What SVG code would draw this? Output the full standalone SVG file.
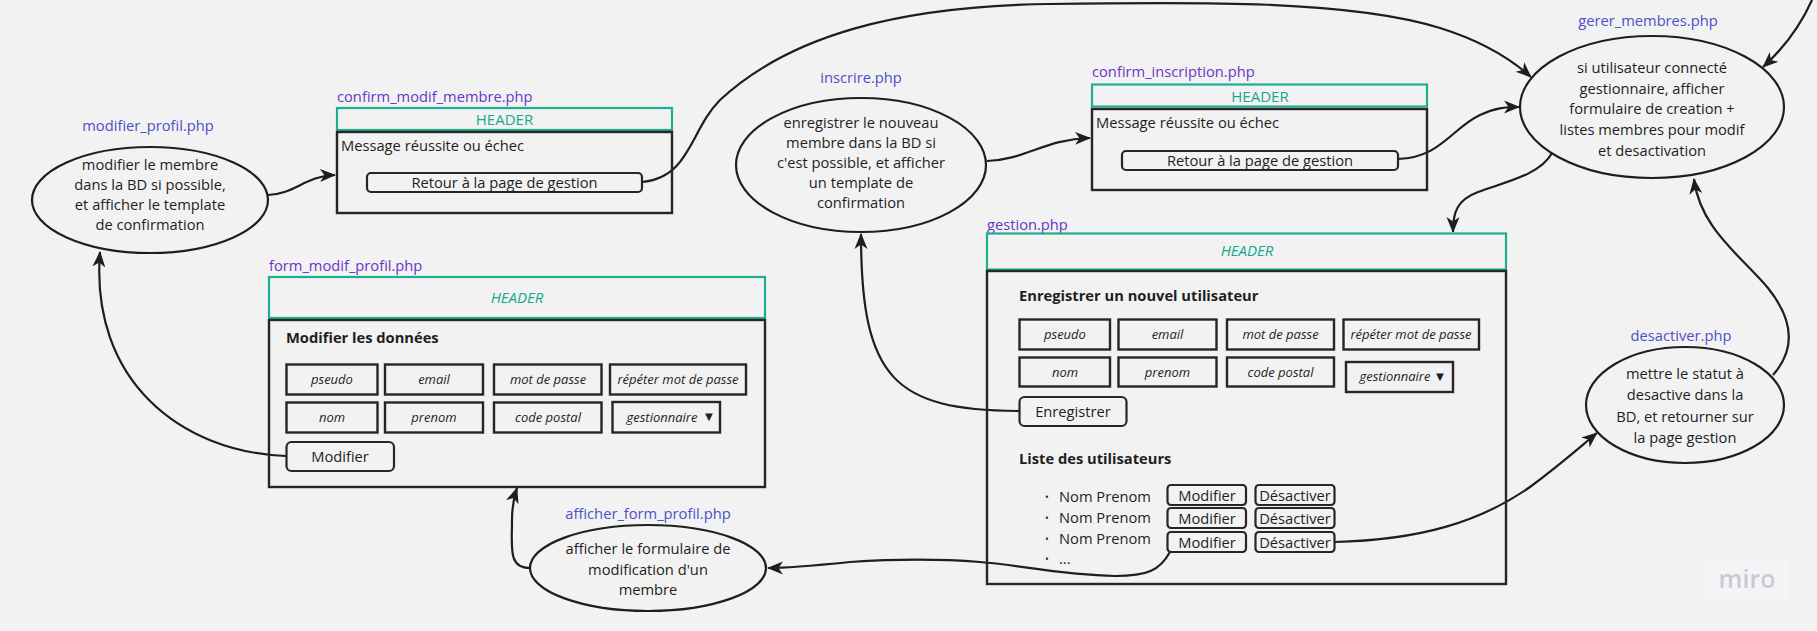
<svg xmlns="http://www.w3.org/2000/svg" width="1817" height="631" viewBox="0 0 1817 631">
<style>
text{font-family:"Open Sans","Noto Sans","Liberation Sans",sans-serif;font-size:14.7px;fill:#1e1e1e}
.lb{fill:#4b50c8}
.lp{fill:#6a34c8}
.mid{text-anchor:middle}
.hd{fill:#15a88a;text-anchor:middle;font-size:15px}
.it{font-style:italic}
.fld{font-size:13px;font-style:italic;text-anchor:middle}
.tri{font-size:13px;text-anchor:middle}
.bul{font-size:10px}
.bold{font-weight:700}
.ell{fill:none;stroke:#1e1e1e;stroke-width:2.2}
.hdr{fill:none;stroke:#1fae90;stroke-width:2.2}
.body{fill:none;stroke:#262626;stroke-width:2.4}
.box{fill:none;stroke:#262626;stroke-width:2.4}
.btn{fill:none;stroke:#262626;stroke-width:2.2}
.con path{fill:none;stroke:#1e1e1e;stroke-width:2.2;marker-end:url(#ah)}
</style>
<defs>
<marker id="ah" markerUnits="userSpaceOnUse" markerWidth="16" markerHeight="16" viewBox="0 0 16 16" refX="15" refY="8" orient="auto">
<path d="M0,1.5 L16,8 L0,14.5 L4.5,8 z" fill="#1e1e1e"/>
</marker>
</defs>
<rect x="0" y="0" width="1817" height="631" fill="#f2f2f2"/>

<g class="con" id="connectors">
<path d="M268,195 C295,194 305,176 335,175"/>
<path d="M642,182 C690,178 690,130 720,100 C790,35 900,6 1050,4 C1200,2 1350,0 1440,28 C1485,42 1512,60 1531,77"/>
<path d="M987,161 C1025,160 1045,139 1090,138"/>
<path d="M1398,159 C1440,158 1452,128 1480,115 C1495,108 1505,107 1519,107"/>
<path d="M1812,0 Q1795,38 1763,67"/>
<path d="M1552,153 C1540,175 1505,182 1478,192 C1457,200 1453,212 1453,232"/>
<path d="M1773,375 C1797,348 1792,318 1768,288 C1740,255 1700,228 1694,179"/>
<path d="M1334,542 C1420,540 1480,522 1530,487 C1560,465 1580,447 1597,433"/>
<path d="M1170,552 C1160,570 1148,576 1115,576 C1060,575 1020,565 980,562 C930,558 880,560 850,562 C820,565 790,568 768,568"/>
<path d="M530,568 C508,568 512,548 512,520 C512,505 514,497 517,488"/>
<path d="M1019,411 C895,410 861,380 861,234"/>
<path d="M286,456 C180,452 90,380 100,252"/>
</g>

<g id="modifier_profil">
<text class="lb mid" x="148" y="131">modifier_profil.php</text>
<ellipse class="ell" cx="150" cy="200" rx="118" ry="53"/>
<text class="mid" x="150" y="170">modifier le membre</text>
<text class="mid" x="150" y="190">dans la BD si possible,</text>
<text class="mid" x="150" y="210">et afficher le template</text>
<text class="mid" x="150" y="230">de confirmation</text>
</g>

<g id="confirm_modif_membre">
<text class="lp" x="337" y="102">confirm_modif_membre.php</text>
<rect class="hdr" x="337" y="108" width="335" height="22"/>
<text class="hd" x="504.5" y="124.5">HEADER</text>
<rect class="body" x="337" y="132" width="335" height="81"/>
<text x="341" y="151">Message réussite ou échec</text>
<rect class="btn" x="367" y="173" width="275" height="19" rx="4"/>
<text class="mid" x="504.5" y="188">Retour à la page de gestion</text>
</g>

<g id="inscrire">
<text class="lb mid" x="861" y="83">inscrire.php</text>
<ellipse class="ell" cx="861" cy="165" rx="125" ry="67"/>
<text class="mid" x="861" y="128">enregistrer le nouveau</text>
<text class="mid" x="861" y="148">membre dans la BD si</text>
<text class="mid" x="861" y="168">c'est possible, et afficher</text>
<text class="mid" x="861" y="188">un template de</text>
<text class="mid" x="861" y="208">confirmation</text>
</g>

<g id="confirm_inscription">
<text class="lp" x="1092" y="77">confirm_inscription.php</text>
<rect class="hdr" x="1092" y="84.5" width="335" height="22"/>
<text class="hd" x="1260" y="101.5">HEADER</text>
<rect class="body" x="1092" y="109" width="335" height="81"/>
<text x="1096" y="128">Message réussite ou échec</text>
<rect class="btn" x="1122" y="151" width="276" height="19" rx="4"/>
<text class="mid" x="1260" y="166">Retour à la page de gestion</text>
</g>

<g id="gerer_membres">
<text class="lb mid" x="1648" y="26">gerer_membres.php</text>
<ellipse class="ell" cx="1652" cy="107" rx="132" ry="71"/>
<text class="mid" x="1652" y="73">si utilisateur connecté</text>
<text class="mid" x="1652" y="93.5">gestionnaire, afficher</text>
<text class="mid" x="1652" y="114">formulaire de creation +</text>
<text class="mid" x="1652" y="135">listes membres pour modif</text>
<text class="mid" x="1652" y="156">et desactivation</text>
</g>

<g id="gestion">
<text class="lp" x="987" y="230">gestion.php</text>
<rect class="hdr" x="987" y="233.5" width="519" height="36"/>
<text class="hd it" x="1247" y="256">HEADER</text>
<rect class="body" x="987" y="271" width="519" height="313"/>
<text class="bold" x="1019" y="301">Enregistrer un nouvel utilisateur</text>
<rect class="box" x="1019.5" y="319.5" width="90.5" height="30"/>
<text class="fld" x="1065" y="338.5">pseudo</text>
<rect class="box" x="1118.5" y="319.5" width="98" height="30"/>
<text class="fld" x="1167.5" y="338.5">email</text>
<rect class="box" x="1227" y="319.5" width="107" height="30"/>
<text class="fld" x="1280.5" y="338.5">mot de passe</text>
<rect class="box" x="1343.5" y="319.5" width="135.5" height="30"/>
<text class="fld" x="1411" y="338.5">répéter mot de passe</text>
<rect class="box" x="1019.5" y="357.5" width="90.5" height="29"/>
<text class="fld" x="1065" y="376.5">nom</text>
<rect class="box" x="1118.5" y="357.5" width="98" height="29"/>
<text class="fld" x="1167.5" y="376.5">prenom</text>
<rect class="box" x="1227" y="357.5" width="107" height="29"/>
<text class="fld" x="1280.5" y="376.5">code postal</text>
<rect class="box" x="1346" y="362" width="107" height="30"/>
<text class="fld" x="1395" y="381">gestionnaire</text>
<text class="tri" x="1440" y="381">▼</text>
<rect class="btn" x="1019.5" y="397" width="107" height="29" rx="5"/>
<text class="mid" x="1073" y="417">Enregistrer</text>
<text class="bold" x="1019" y="464">Liste des utilisateurs</text>
<text class="bul" x="1045" y="501">•</text>
<text x="1059" y="501.5">Nom Prenom</text>
<text class="bul" x="1045" y="522">•</text>
<text x="1059" y="522.5">Nom Prenom</text>
<text class="bul" x="1045" y="543">•</text>
<text x="1059" y="543.5">Nom Prenom</text>
<text class="bul" x="1045" y="563">•</text>
<text x="1059" y="563.5">...</text>
<rect class="btn" x="1167.5" y="485" width="78.5" height="20" rx="3.5"/>
<text class="mid" x="1207" y="501">Modifier</text>
<rect class="btn" x="1255.5" y="485" width="79" height="20" rx="3.5"/>
<text class="mid" x="1295" y="501">Désactiver</text>
<rect class="btn" x="1167.5" y="508" width="78.5" height="20" rx="3.5"/>
<text class="mid" x="1207" y="524">Modifier</text>
<rect class="btn" x="1255.5" y="508" width="79" height="20" rx="3.5"/>
<text class="mid" x="1295" y="524">Désactiver</text>
<rect class="btn" x="1167.5" y="532" width="78.5" height="20" rx="3.5"/>
<text class="mid" x="1207" y="548">Modifier</text>
<rect class="btn" x="1255.5" y="532" width="79" height="20" rx="3.5"/>
<text class="mid" x="1295" y="548">Désactiver</text>
</g>

<g id="form_modif_profil">
<text class="lp" x="269" y="271">form_modif_profil.php</text>
<rect class="hdr" x="269" y="277" width="496" height="41"/>
<text class="hd it" x="517" y="303">HEADER</text>
<rect class="body" x="269" y="320" width="496" height="167"/>
<text class="bold" x="286" y="343">Modifier les données</text>
<rect class="box" x="286.5" y="364.5" width="91" height="30"/>
<text class="fld" x="332" y="384">pseudo</text>
<rect class="box" x="385" y="364.5" width="98" height="30"/>
<text class="fld" x="434" y="384">email</text>
<rect class="box" x="494" y="364.5" width="107.5" height="30"/>
<text class="fld" x="548" y="384">mot de passe</text>
<rect class="box" x="610" y="364.5" width="136" height="30"/>
<text class="fld" x="678" y="384">répéter mot de passe</text>
<rect class="box" x="286.5" y="402.5" width="91" height="30"/>
<text class="fld" x="332" y="421.5">nom</text>
<rect class="box" x="385" y="402.5" width="98" height="30"/>
<text class="fld" x="434" y="421.5">prenom</text>
<rect class="box" x="494" y="402.5" width="107.5" height="30"/>
<text class="fld" x="548" y="421.5">code postal</text>
<rect class="box" x="612.5" y="402" width="107.5" height="30.5"/>
<text class="fld" x="662" y="421.5">gestionnaire</text>
<text class="tri" x="709" y="421">▼</text>
<rect class="btn" x="286.5" y="442" width="107.5" height="29" rx="5"/>
<text class="mid" x="340" y="462">Modifier</text>
</g>

<g id="desactiver">
<text class="lb mid" x="1681" y="341">desactiver.php</text>
<ellipse class="ell" cx="1685" cy="405" rx="99" ry="58"/>
<text class="mid" x="1685" y="379">mettre le statut à</text>
<text class="mid" x="1685" y="400">desactive dans la</text>
<text class="mid" x="1685" y="421.5">BD, et retourner sur</text>
<text class="mid" x="1685" y="442.5">la page gestion</text>
</g>

<g id="afficher_form_profil">
<text class="lb mid" x="648" y="519">afficher_form_profil.php</text>
<ellipse class="ell" cx="648" cy="568" rx="118" ry="43"/>
<text class="mid" x="648" y="554">afficher le formulaire de</text>
<text class="mid" x="648" y="574.5">modification d'un</text>
<text class="mid" x="648" y="595">membre</text>
</g>

<g id="watermark">
<rect x="1705" y="558" width="83" height="44" fill="#f4f4f6"/>
<text x="1747" y="588" style="font-size:25px;font-weight:600;fill:#cacad4;text-anchor:middle">miro</text>
</g>
</svg>
